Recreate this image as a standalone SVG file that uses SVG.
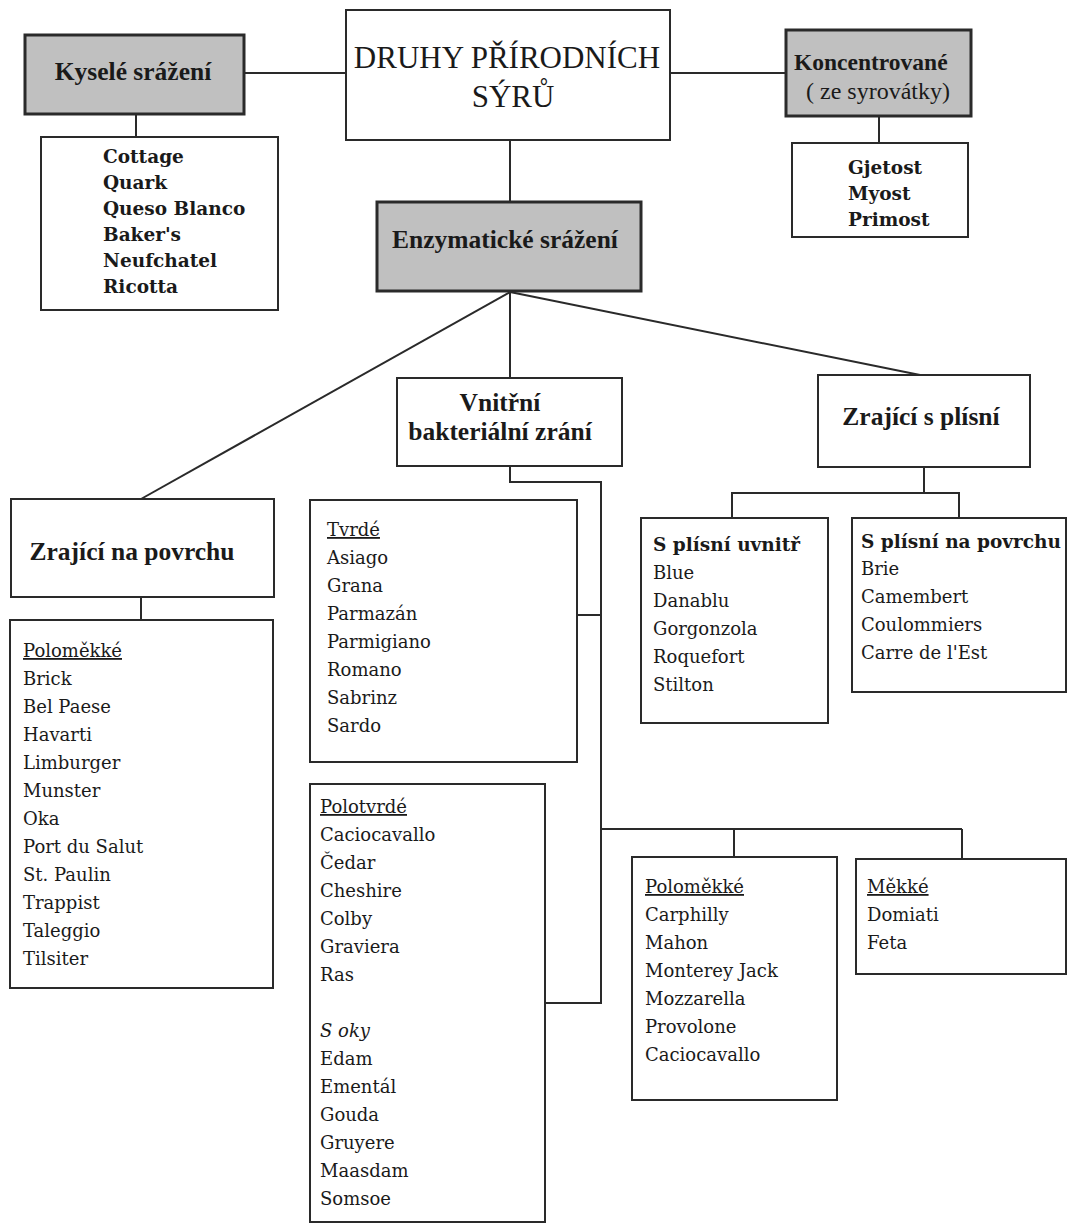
<svg xmlns="http://www.w3.org/2000/svg" width="1067" height="1224" viewBox="0 0 1067 1224">
<style>
.box{fill:#fff;stroke:#2a2a2a;stroke-width:2}
.grey{fill:#c0c0c0;stroke:#2a2a2a;stroke-width:3}
.ln{fill:none;stroke:#2a2a2a;stroke-width:2}
text{font-family:"DejaVu Serif","Liberation Serif",serif;fill:#1a1a1a}
.t{font-size:18px}
.b{font-size:18.5px;font-weight:bold}
.h{font-family:"Liberation Serif",serif;font-size:25.5px;font-weight:bold;text-anchor:middle}
.k{font-family:"Liberation Serif",serif;font-size:23.5px;font-weight:bold}
.kn{font-family:"Liberation Serif",serif;font-size:24px}
.title{font-family:"Liberation Serif",serif;font-size:31px;text-anchor:middle}
.u{text-decoration:underline}
.i{font-style:italic}
</style>
<rect width="1067" height="1224" fill="#fff"/>
<g id="connectors">
<line class="ln" x1="244" y1="73" x2="346" y2="73"/>
<line class="ln" x1="670" y1="73" x2="786" y2="73"/>
<line class="ln" x1="136" y1="114" x2="136" y2="137"/>
<line class="ln" x1="879" y1="116" x2="879" y2="143"/>
<line class="ln" x1="510" y1="140" x2="510" y2="202"/>
<line class="ln" x1="510" y1="292" x2="141" y2="499" stroke-width="3"/>
<line class="ln" x1="510" y1="292" x2="510" y2="378"/>
<line class="ln" x1="510" y1="292" x2="925" y2="376" stroke-width="3"/>
<line class="ln" x1="141" y1="597" x2="141" y2="620"/>
<polyline class="ln" points="510,466 510,482 601,482 601,1003 545,1003"/>
<line class="ln" x1="577" y1="615" x2="601" y2="615"/>
<line class="ln" x1="601" y1="829" x2="962" y2="829"/>
<line class="ln" x1="734" y1="829" x2="734" y2="857"/>
<line class="ln" x1="962" y1="829" x2="962" y2="859"/>
<line class="ln" x1="924" y1="467" x2="924" y2="493"/>
<polyline class="ln" points="732,518 732,493 959,493 959,518"/>
</g>
<g id="main">
<rect class="box" x="346" y="10" width="324" height="130"/>
<text class="title" x="507" y="68">DRUHY PŘÍRODNÍCH</text>
<text class="title" x="513" y="107">SÝRŮ</text>
</g>
<g id="kysele">
<rect class="grey" x="25" y="35" width="219" height="79"/>
<text class="h" x="133" y="80">Kyselé srážení</text>
</g>
<g id="kysele-list">
<rect class="box" x="41" y="137" width="237" height="173"/>
<text class="b" x="103" y="163">Cottage</text>
<text class="b" x="103" y="189">Quark</text>
<text class="b" x="103" y="215">Queso Blanco</text>
<text class="b" x="103" y="241">Baker's</text>
<text class="b" x="103" y="267">Neufchatel</text>
<text class="b" x="103" y="293">Ricotta</text>
</g>
<g id="koncentrovane">
<rect class="grey" x="786" y="30" width="185" height="86"/>
<text class="k" x="794" y="70">Koncentrované</text>
<text class="kn" x="806" y="99">( ze syrovátky)</text>
</g>
<g id="koncentrovane-list">
<rect class="box" x="792" y="143" width="176" height="94"/>
<text class="b" x="848" y="174">Gjetost</text>
<text class="b" x="848" y="200">Myost</text>
<text class="b" x="848" y="226">Primost</text>
</g>
<g id="enzymaticke">
<rect class="grey" x="377" y="202" width="264" height="89"/>
<text class="h" x="505" y="248">Enzymatické srážení</text>
</g>
<g id="vnitrni">
<rect class="box" x="397" y="378" width="225" height="88"/>
<text class="h" x="500" y="411">Vnitřní</text>
<text class="h" x="500" y="440">bakteriální zrání</text>
</g>
<g id="plisen">
<rect class="box" x="818" y="375" width="212" height="92"/>
<text class="h" x="921" y="425">Zrající s plísní</text>
</g>
<g id="povrch">
<rect class="box" x="11" y="499" width="263" height="98"/>
<text class="h" x="132" y="560">Zrající na povrchu</text>
</g>
<g id="povrch-list">
<rect class="box" x="10" y="620" width="263" height="368"/>
<text class="t u" x="23" y="657">Poloměkké</text>
<text class="t" x="23" y="685">Brick</text>
<text class="t" x="23" y="713">Bel Paese</text>
<text class="t" x="23" y="741">Havarti</text>
<text class="t" x="23" y="769">Limburger</text>
<text class="t" x="23" y="797">Munster</text>
<text class="t" x="23" y="825">Oka</text>
<text class="t" x="23" y="853">Port du Salut</text>
<text class="t" x="23" y="881">St. Paulin</text>
<text class="t" x="23" y="909">Trappist</text>
<text class="t" x="23" y="937">Taleggio</text>
<text class="t" x="23" y="965">Tilsiter</text>
</g>
<g id="tvrde">
<rect class="box" x="310" y="500" width="267" height="262"/>
<text class="t u" x="327" y="536">Tvrdé</text>
<text class="t" x="327" y="564">Asiago</text>
<text class="t" x="327" y="592">Grana</text>
<text class="t" x="327" y="620">Parmazán</text>
<text class="t" x="327" y="648">Parmigiano</text>
<text class="t" x="327" y="676">Romano</text>
<text class="t" x="327" y="704">Sabrinz</text>
<text class="t" x="327" y="732">Sardo</text>
</g>
<g id="polotvrde">
<rect class="box" x="310" y="784" width="235" height="438"/>
<text class="t u" x="320" y="813">Polotvrdé</text>
<text class="t" x="320" y="841">Caciocavallo</text>
<text class="t" x="320" y="869">Čedar</text>
<text class="t" x="320" y="897">Cheshire</text>
<text class="t" x="320" y="925">Colby</text>
<text class="t" x="320" y="953">Graviera</text>
<text class="t" x="320" y="981">Ras</text>
<text class="t i" x="320" y="1037">S oky</text>
<text class="t" x="320" y="1065">Edam</text>
<text class="t" x="320" y="1093">Ementál</text>
<text class="t" x="320" y="1121">Gouda</text>
<text class="t" x="320" y="1149">Gruyere</text>
<text class="t" x="320" y="1177">Maasdam</text>
<text class="t" x="320" y="1205">Somsoe</text>
</g>
<g id="polomekke">
<rect class="box" x="632" y="857" width="205" height="243"/>
<text class="t u" x="645" y="893">Poloměkké</text>
<text class="t" x="645" y="921">Carphilly</text>
<text class="t" x="645" y="949">Mahon</text>
<text class="t" x="645" y="977">Monterey Jack</text>
<text class="t" x="645" y="1005">Mozzarella</text>
<text class="t" x="645" y="1033">Provolone</text>
<text class="t" x="645" y="1061">Caciocavallo</text>
</g>
<g id="mekke">
<rect class="box" x="856" y="859" width="210" height="115"/>
<text class="t u" x="867" y="893">Měkké</text>
<text class="t" x="867" y="921">Domiati</text>
<text class="t" x="867" y="949">Feta</text>
</g>
<g id="plisen-uvnitr">
<rect class="box" x="641" y="518" width="187" height="205"/>
<text class="b" x="653" y="551">S plísní uvnitř</text>
<text class="t" x="653" y="579">Blue</text>
<text class="t" x="653" y="607">Danablu</text>
<text class="t" x="653" y="635">Gorgonzola</text>
<text class="t" x="653" y="663">Roquefort</text>
<text class="t" x="653" y="691">Stilton</text>
</g>
<g id="plisen-povrch">
<rect class="box" x="852" y="518" width="214" height="174"/>
<text class="b" x="861" y="548">S plísní na povrchu</text>
<text class="t" x="861" y="575">Brie</text>
<text class="t" x="861" y="603">Camembert</text>
<text class="t" x="861" y="631">Coulommiers</text>
<text class="t" x="861" y="659">Carre de l'Est</text>
</g>
</svg>
